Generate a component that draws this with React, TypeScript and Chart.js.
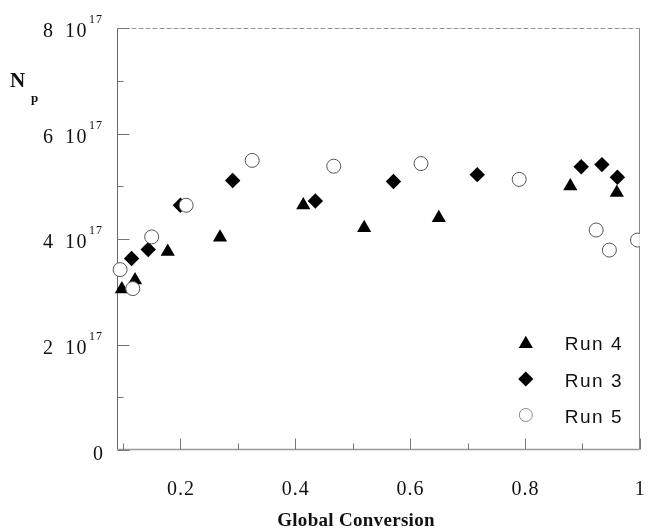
import React, { useEffect, useRef } from 'react';
import { Chart, registerables } from 'chart.js';

Chart.register(...registerables);

// ---- data (y in units of 10^17) ----
const run4X = [0.098, 0.121, 0.178, 0.269, 0.414, 0.520, 0.650, 0.879, 0.960];
const run4Y = [3.05, 3.22, 3.76, 4.03, 4.64, 4.21, 4.40, 5.00, 4.88];

const run3X = [0.115, 0.144, 0.200, 0.291, 0.435, 0.571, 0.717, 0.898, 0.934, 0.961];
const run3Y = [3.63, 3.80, 4.64, 5.11, 4.72, 5.09, 5.22, 5.37, 5.41, 5.17];

const run5X = [0.095, 0.117, 0.150, 0.210, 0.325, 0.467, 0.619, 0.790, 0.924, 0.947, 0.996];
const run5Y = [3.42, 3.06, 4.04, 4.64, 5.49, 5.38, 5.43, 5.13, 4.17, 3.79, 3.98];

const seriesNames = ['Run 4', 'Run 3', 'Run 5'];

const xMajorTicks = [0.2, 0.4, 0.6, 0.8, 1.0];
const xTickLabels = ['0.2', '0.4', '0.6', '0.8', '1'];
const xMinorTicks = [0.1, 0.3, 0.5, 0.7, 0.9];

const yMajorTicks = [0, 2, 4, 6, 8];
const yTickMantissas = ['0', '2', '4', '6', '8'];
const yMinorTicks = [1, 3, 5, 7];
const yExponent = '17';

const xTitle = 'Global Conversion';
const yTitleMain = 'N';
const yTitleSub = 'p';

const toPoints = (xs: number[], ys: number[]) => xs.map((x, i) => ({ x, y: ys[i] }));

const SERIF = '"Liberation Serif", "Times New Roman", serif';
const SANS = '"Liberation Sans", Arial, sans-serif';

function drawTriangle(ctx: CanvasRenderingContext2D, x: number, y: number, r: number) {
  ctx.beginPath();
  ctx.moveTo(x, y - r);
  ctx.lineTo(x + 0.866 * r, y + 0.5 * r);
  ctx.lineTo(x - 0.866 * r, y + 0.5 * r);
  ctx.closePath();
  ctx.fillStyle = '#000';
  ctx.fill();
}
function drawDiamond(ctx: CanvasRenderingContext2D, x: number, y: number, r: number) {
  ctx.beginPath();
  ctx.moveTo(x, y - r);
  ctx.lineTo(x + r, y);
  ctx.lineTo(x, y + r);
  ctx.lineTo(x - r, y);
  ctx.closePath();
  ctx.fillStyle = '#000';
  ctx.fill();
}
function drawCircle(ctx: CanvasRenderingContext2D, x: number, y: number, r: number) {
  ctx.beginPath();
  ctx.arc(x, y, r, 0, Math.PI * 2);
  ctx.fillStyle = '#fff';
  ctx.fill();
  ctx.strokeStyle = '#888';
  ctx.lineWidth = 1;
  ctx.stroke();
}

const decorPlugin = {
  id: 'decor',
  beforeDatasetsDraw(chart: any) {
    const { ctx, chartArea: a, scales } = chart;
    const xs = scales.x;
    const ys = scales.y;
    ctx.save();
    const line = (x1: number, y1: number, x2: number, y2: number) => {
      ctx.beginPath();
      ctx.moveTo(x1, y1);
      ctx.lineTo(x2, y2);
      ctx.stroke();
    };
    const L = Math.round(a.left) + 0.5;
    const R = Math.round(a.right) - 0.5;
    const T = Math.round(a.top) + 0.5;
    const B = Math.round(a.bottom) - 0.5;
    // frame
    ctx.lineWidth = 1;
    ctx.strokeStyle = '#999';
    ctx.setLineDash([5, 2]);
    line(L, T, R, T);
    ctx.setLineDash([]);
    ctx.strokeStyle = '#888';
    line(R, T, R, B);
    ctx.strokeStyle = '#666';
    line(L, T, L, B);
    ctx.strokeStyle = '#999';
    ctx.lineWidth = 1.5;
    line(L, B, R, B);

    // ticks (inward)
    ctx.lineWidth = 1;
    ctx.strokeStyle = '#777';
    xMajorTicks.forEach((v) => {
      const px = Math.round(xs.getPixelForValue(v)) + 0.5;
      line(px, B, px, B - 11);
    });
    xMinorTicks.forEach((v) => {
      const px = Math.round(xs.getPixelForValue(v)) + 0.5;
      line(px, B, px, B - 6);
    });
    yMajorTicks.forEach((v) => {
      const py = Math.round(ys.getPixelForValue(v)) + 0.5;
      line(L, py, L + 12, py);
    });
    yMinorTicks.forEach((v) => {
      const py = Math.round(ys.getPixelForValue(v)) + 0.5;
      line(L, py, L + 6, py);
    });
    ctx.restore();
  },
  afterDraw(chart: any) {
    const { ctx, chartArea: a, scales } = chart;
    const xs = scales.x;
    const ys = scales.y;
    ctx.save();
    ctx.fillStyle = '#111';
    ctx.textBaseline = 'alphabetic';

    // x tick labels
    ctx.font = `20px ${SERIF}`;
    (ctx as any).letterSpacing = '1px';
    ctx.textAlign = 'center';
    xMajorTicks.forEach((v, i) => {
      const px = xs.getPixelForValue(v);
      ctx.fillText(xTickLabels[i], px + 0.5, a.bottom + 45);
    });

    // y tick labels with superscript exponent
    yMajorTicks.forEach((v, i) => {
      const py = ys.getPixelForValue(v);
      ctx.textAlign = 'left';
      if (v === 0) {
        ctx.font = `20px ${SERIF}`;
        (ctx as any).letterSpacing = '0px';
        ctx.fillText(yTickMantissas[i], a.left - 24, py + 10);
        return;
      }
      ctx.font = `20px ${SERIF}`;
      (ctx as any).letterSpacing = '0px';
      ctx.fillText(yTickMantissas[i], a.left - 74, py + 9);
      (ctx as any).letterSpacing = '1.5px';
      ctx.fillText('10', a.left - 52, py + 9);
      ctx.font = `12px ${SERIF}`;
      (ctx as any).letterSpacing = '1px';
      ctx.fillText(yExponent, a.left - 28, py - 5);
    });

    // axis titles
    ctx.textAlign = 'center';
    ctx.font = `bold 19px ${SERIF}`;
    (ctx as any).letterSpacing = '0.3px';
    ctx.fillText(xTitle, 356, 526);

    ctx.textAlign = 'left';
    (ctx as any).letterSpacing = '0px';
    ctx.font = `bold 21px ${SERIF}`;
    ctx.fillText(yTitleMain, 10, 87);
    ctx.font = `bold 13px ${SERIF}`;
    ctx.fillText(yTitleSub, 31, 102);

    // legend
    const symX = a.right - 114;
    const txtX = a.right - 75;
    const rows = [a.bottom - 108, a.bottom - 71, a.bottom - 35];
    drawTriangle(ctx, symX, rows[0] + 2, 8.2);
    drawDiamond(ctx, symX, rows[1], 7.6);
    drawCircle(ctx, symX, rows[2], 6.5);
    ctx.fillStyle = '#111';
    ctx.font = `19px ${SANS}`;
    (ctx as any).letterSpacing = '1.5px';
    rows.forEach((ry, i) => ctx.fillText(seriesNames[i], txtX, ry + 8));
    ctx.restore();
  },
};

export default function App() {
  const ref = useRef<HTMLCanvasElement | null>(null);
  useEffect(() => {
    if (!ref.current) return;
    const chart = new Chart(ref.current, {
      type: 'scatter',
      data: {
        datasets: [
          {
            label: seriesNames[0],
            data: toPoints(run4X, run4Y),
            pointStyle: 'triangle',
            pointRadius: 8.2,
            backgroundColor: '#000',
            borderColor: '#000',
            borderWidth: 0,
            order: 3,
          },
          {
            label: seriesNames[1],
            data: toPoints(run3X, run3Y),
            pointStyle: 'rectRot',
            pointRadius: 7.7,
            backgroundColor: '#000',
            borderColor: '#000',
            borderWidth: 0,
            order: 2,
          },
          {
            label: seriesNames[2],
            data: toPoints(run5X, run5Y),
            pointStyle: 'circle',
            pointRadius: 7,
            backgroundColor: '#fff',
            borderColor: '#555',
            borderWidth: 1,
            order: 1,
          },
        ] as any,
      },
      options: {
        animation: false,
        responsive: false,
        layout: { padding: { left: 117, right: 4, top: 28, bottom: 82 } },
        clip: { left: 12, right: 0, top: 12, bottom: 12 } as any,
        plugins: {
          legend: { display: false },
          tooltip: { enabled: false },
        },
        scales: {
          x: { type: 'linear', min: 0.0896, max: 1.0, display: false },
          y: { type: 'linear', min: 0, max: 8, display: false },
        },
      },
      plugins: [decorPlugin],
    });
    return () => chart.destroy();
  }, []);
  return (
    <div style={{ position: 'fixed', left: 0, top: 0, width: 648, height: 532, background: '#fff' }}>
      <canvas ref={ref} width={648} height={532} style={{ display: 'block' }} />
    </div>
  );
}
